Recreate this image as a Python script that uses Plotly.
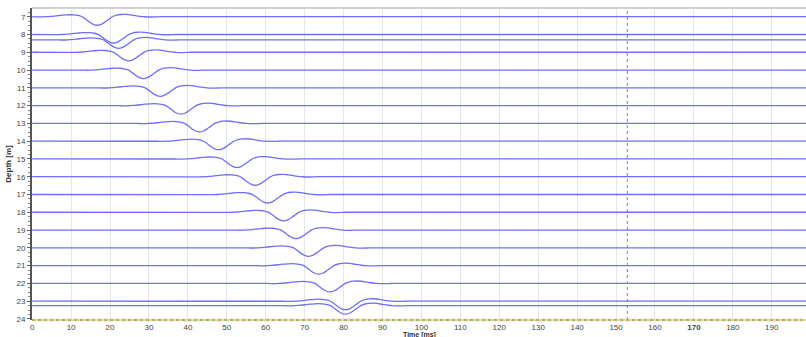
import plotly.graph_objects as go

# Receiver depths (m) and first-break trough times (ms) of each trace
depths = [7, 8, 8.3, 9, 10, 11, 12, 13, 14, 15, 16, 17, 18, 19, 20, 21, 22, 23, 23.25]
trough_times = [16.7, 20.9, 22.2, 24.8, 28.6, 32.9, 38.2, 43.0, 47.9, 52.6,
                57.3, 60.5, 64.6, 67.8, 71.0, 73.6, 76.5, 80.5, 80.5]

# Wavelet samples (m of trace deflection, positive = downward) at 1 ms steps
wavelet_offsets = list(range(-16, 17))
wavelet_values = [0.005, 0.01, 0.01, 0.0, -0.015, -0.035, -0.06, -0.085, -0.10, -0.11,
                  -0.10, -0.07, -0.01, 0.13, 0.30, 0.43, 0.48, 0.43, 0.30, 0.14,
                  -0.01, -0.09, -0.125, -0.135, -0.12, -0.09, -0.05, -0.02, 0.0,
                  0.015, 0.015, 0.01, 0.0]

trace_end = 200.0
cursor_time = 152.9

x_ticks = list(range(0, 200, 10))
x_tick_text = [f"<b>{v}</b>" if v == 170 else str(v) for v in x_ticks]
y_ticks = list(range(7, 25))

line_color = "rgb(110,110,255)"
font_family = "Liberation Sans, Arial, sans-serif"

fig = go.Figure()
for depth, t0 in zip(depths, trough_times):
    xs = [0.0]
    ys = [depth]
    for off, w in zip(wavelet_offsets, wavelet_values):
        t = t0 + off
        if t <= 0:
            continue
        xs.append(t)
        ys.append(depth + w)
    xs.append(trace_end)
    ys.append(depth)
    fig.add_trace(go.Scatter(
        x=xs, y=ys, mode="lines",
        line=dict(color=line_color, width=1.3, shape="spline", smoothing=0.8),
        hoverinfo="skip", showlegend=False,
    ))

# Time cursor
fig.add_shape(type="line", xref="x", yref="paper", x0=cursor_time, x1=cursor_time,
              y0=0, y1=1, line=dict(color="rgb(120,120,255)", width=1, dash="dot"))
# Top frame line
fig.add_shape(type="line", xref="paper", yref="paper", x0=0, x1=1, y0=1, y1=1,
              line=dict(color="#d2d2d2", width=2))
# Bottom axis line (dotted olive)
fig.add_shape(type="line", xref="paper", yref="paper", x0=0, x1=1, y0=0, y1=0,
              line=dict(color="#e0dc98", width=2.5))
fig.add_shape(type="line", xref="paper", yref="paper", x0=0, x1=1, y0=0, y1=0,
              line=dict(color="#8a8650", width=1, dash="dot"))

# Time axis title sits below the tick labels
fig.add_annotation(text="<b>Time [ms]</b>", xref="paper", yref="paper", x=0.5, y=0,
                   yanchor="top", yshift=-9, showarrow=False,
                   font=dict(family=font_family, size=7, color="#333333"))

tick_font = dict(family=font_family, size=8, color="#444444")

fig.update_layout(
    width=806, height=337,
    margin=dict(l=32, r=0, t=8, b=17),
    paper_bgcolor="white", plot_bgcolor="white",
    xaxis=dict(
        range=[-0.05, 198.8], tickmode="array", tickvals=x_ticks, ticktext=x_tick_text,
        showgrid=True, gridcolor="#e6e6e6", gridwidth=1.3, zeroline=False,
        showline=False, ticks="", tickfont=tick_font, ticklabelstandoff=1,
    ),
    yaxis=dict(
        range=[24.06, 6.51], tickmode="array", tickvals=y_ticks,
        showgrid=False, zeroline=False,
        showline=True, linecolor="#555555", linewidth=2,
        ticks="outside", ticklen=3, tickcolor="#666666", tickfont=tick_font,
        minor=dict(ticks="outside", ticklen=2, tickcolor="#888888", dtick=0.25, showgrid=False),
        title=dict(text="<b>Depth [m]</b>", font=dict(family=font_family, size=8, color="#333333"),
                   standoff=4),
    ),
)

fig.write_html("out.html")
